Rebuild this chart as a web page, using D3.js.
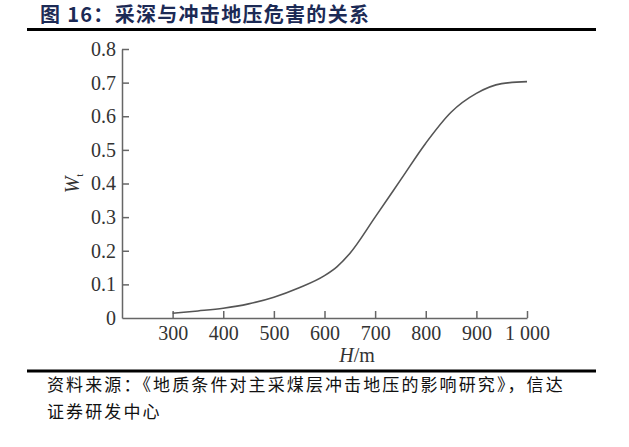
<!DOCTYPE html>
<head>
  <meta charset="utf-8">
  <style>
    body { margin: 0; background: #fff; }
    svg { display: block; }
    .title { font: bold 20px "Noto Sans CJK SC"; fill: #1c2a55; letter-spacing: 1.3px; }
    .source { font: 17px "Noto Sans CJK SC"; fill: #111; letter-spacing: 2.1px; }
    .axis path, .axis line { stroke: #666; stroke-width: 1.5px; }
    .axis text { font: 20px "Liberation Serif"; fill: #333; }
    .lbl { font: 20px "Liberation Serif"; fill: #333; }
  </style>
</head>
<body>
<script src="https://cdn.jsdelivr.net/npm/d3@7"></script>
<script>
  // depth H (m) and hazard W_t
  var depth  = [300, 350, 400, 450, 500, 550, 600, 625, 650, 700, 750, 800, 850, 900, 950, 1000];
  var hazard = [0.014, 0.021, 0.029, 0.042, 0.062, 0.09, 0.126, 0.153, 0.192, 0.30, 0.41, 0.52, 0.612, 0.668, 0.697, 0.703];
  var xTicks = [300, 400, 500, 600, 700, 800, 900, 1000];
  var yTicks = [0, 0.1, 0.2, 0.3, 0.4, 0.5, 0.6, 0.7, 0.8];

  var width = 629, height = 447;

  var svg = d3.select("body").append("svg")
      .attr("width", width)
      .attr("height", height);

  // title + rules
  svg.append("text")
      .attr("class", "title")
      .attr("x", 40)
      .attr("y", 22)
      .text("图 16：采深与冲击地压危害的关系");

  svg.append("line")
      .attr("x1", 27).attr("x2", 596)
      .attr("y1", 29.5).attr("y2", 29.5)
      .style("stroke", "#000").style("stroke-width", 3);

  svg.append("line")
      .attr("x1", 27).attr("x2", 596)
      .attr("y1", 371).attr("y2", 371)
      .style("stroke", "#000").style("stroke-width", 3);

  svg.append("text")
      .attr("class", "source")
      .attr("x", 47).attr("y", 391)
      .text("资料来源：《地质条件对主采煤层冲击地压的影响研究》，信达");
  svg.append("text")
      .attr("class", "source")
      .attr("x", 47).attr("y", 418)
      .text("证券研发中心");

  // scales
  var xScale = d3.scaleLinear().domain([200, 1000]).range([122, 527]);
  var yScale = d3.scaleLinear().domain([0, 0.8]).range([318, 49]);

  var xAxis = d3.axisBottom(xScale)
      .tickValues(xTicks)
      .tickSize(-7)
      .tickSizeOuter(0)
      .tickPadding(8)
      .tickFormat(function (d) { return d === 1000 ? "1 000" : d; });

  svg.append("g")
      .attr("class", "axis")
      .attr("transform", "translate(0," + yScale(0) + ")")
      .call(xAxis);

  var yAxis = d3.axisLeft(yScale)
      .tickValues(yTicks)
      .tickSize(-7)
      .tickSizeOuter(0)
      .tickPadding(6)
      .tickFormat(function (d) { return d === 0 ? "0" : d3.format(".1f")(d); });

  svg.append("g")
      .attr("class", "axis")
      .attr("transform", "translate(" + xScale(200) + ",0)")
      .call(yAxis);

  // no tick mark at the origin on either axis
  svg.selectAll(".axis .tick").filter(function (d) { return d === 0; })
      .select("line").remove();

  // axis titles
  var xl = svg.append("text")
      .attr("class", "lbl")
      .attr("x", 357).attr("y", 362)
      .style("text-anchor", "middle");
  xl.append("tspan").style("font-style", "italic").text("H");
  xl.append("tspan").text("/m");

  var yl = svg.append("text")
      .attr("class", "lbl")
      .attr("transform", "translate(79," + yScale(0.4) + ") rotate(-90)")
      .style("text-anchor", "middle");
  yl.append("tspan").style("font-style", "italic").text("W");
  yl.append("tspan").attr("dy", 4).style("font-size", "11px").text("t");

  // curve
  var pts = depth.map(function (d, i) { return [d, hazard[i]]; });
  var line = d3.line()
      .x(function (d) { return xScale(d[0]); })
      .y(function (d) { return yScale(d[1]); })
      .curve(d3.curveMonotoneX);

  svg.append("path")
      .attr("d", line(pts))
      .style("fill", "none")
      .style("stroke", "#555")
      .style("stroke-width", "1.6px");
</script>
</body>
</html>
